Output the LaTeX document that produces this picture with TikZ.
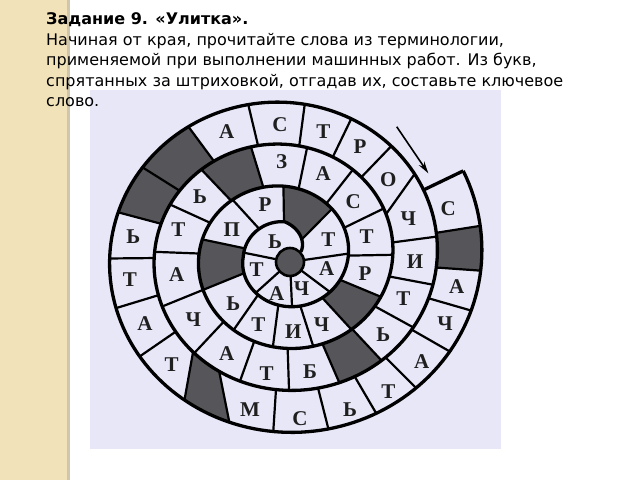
\documentclass[tikz,border=0pt]{standalone}
\usepackage{fontspec}
\setmainfont{DejaVu Sans}
\newfontfamily\cellfont{Liberation Serif}
\usetikzlibrary{arrows.meta}
\definecolor{paper}{RGB}{241,226,186}
\definecolor{paperedge}{RGB}{208,198,172}
\definecolor{lav}{RGB}{231,231,248}
\definecolor{shadegray}{RGB}{86,86,90}
\tikzset{
  spiralline/.style={line width=3.3pt, line join=round},
  sepline/.style={line width=2.2pt},
  shadecell/.style={fill=shadegray},
  cellletter/.style={font=\cellfont\bfseries\fontsize{21}{21}\selectfont, inner sep=0pt, text=black!88},
  bodytext/.style={font=\fontsize{16}{20}\selectfont, anchor=base west, inner sep=0pt},
}
\begin{document}
\begin{tikzpicture}[x=1pt,y=-1pt,
  declare function={
    sR(\t)=(\t<1260)?(186-\t/360*42):((\t<1350)?(39-(\t-1260)/90*4):(35-(\t-1350)/65*17));
    sx(\t)=284.6+1.06*sR(\t)*cos(\t);
    sy(\t)=256.75+sR(\t)*sin(\t);
  }]
\useasboundingbox (0,0) rectangle (640,480);
% background
\fill[white] (0,0) rectangle (640,480);
\fill[paper] (0,0) rectangle (67,480);
\fill[paperedge] (67,0) rectangle (70,480);
\fill[lav] (90,90) rectangle (501,449);
% text
\node[bodytext] (t1) at (46,24) {\bfseries Задание 9. «Улитка».};
\node[bodytext] (t2) at (46,45) {Начиная от края, прочитайте слова из терминологии,};
\node[bodytext] (t3) at (46,65.5) {применяемой при выполнении машинных работ. Из букв,};
\node[bodytext] (t4) at (46,86) {спрятанных за штриховкой, отгадав их, составьте ключевое};
\node[bodytext] (t5) at (46,106.5) {слово.};
% shaded cells (outer start/end, inner start/end)
\foreach \a/\b/\c/\d in {-9.5/4.3/-9.5/4.3, 107.5/123.4/118.3/132.2, 195.8/213.7/195.8/213.7,
   213.7/235.1/213.7/235.1, 408.6/427.7/408.6/427.7, 588/613.9/588/613.9,
   743.8/769.1/743.8/769.1, 876.7/912.6/876.7/912.6, 989.1/1033/989.1/1033}
  \fill[shadecell] plot[domain=\a:\b, samples=20] ({sx(\x)},{sy(\x)})
     -- plot[domain=\d+360:\c+360, samples=20] ({sx(\x)},{sy(\x)}) -- cycle;
% separators
\foreach \a/\b in {-9.5/-9.5, 4.3/4.3, 17/17, 31.3/31.3, 46.6/46.6, 61.1/61.1, 76.5/76.5,
   93.5/93.5, 107.5/118.3, 123.4/132.2, 143.9/143.9, 162.1/162.1, 179.4/179.4,
   195.8/195.8, 213.7/213.7, 235.1/235.1, 257.3/257.3, 277.1/277.1, 294.5/294.5,
   312.3/312.3, 326/336, 352/352, 371.3/371.3, 390.2/390.2, 408.6/408.6, 427.7/427.7,
   448.2/448.2, 468.7/468.7, 491.5/491.5, 516.7/516.7, 542.3/542.3, 565.8/565.8,
   588/588, 613.9/613.9, 641/641, 666.5/666.5, 692.7/692.7, 718.9/718.9, 743.8/743.8,
   769.1/769.1, 793.2/793.2, 817/817, 843.3/843.3, 876.7/876.7, 912.6/912.6,
   949.3/949.3, 989.1/989.1, 1033/1033}
  \draw[sepline] ({sx(\a)},{sy(\a)}) -- ({sx(\b+360)},{sy(\b+360)});
\coordinate (ctr) at (290,262);
\foreach \a in {1077,1119.5,1162,1207,1266}
  \draw[sepline] ({sx(\a)},{sy(\a)}) -- (ctr);
% spiral
\draw[spiralline] plot[domain=-27:1422, samples=700] ({sx(\x)},{sy(\x)});
\coordinate (capout) at ({sx(-27)},{sy(-27)});
\coordinate (capin) at ({sx(333)},{sy(333)});
\draw[spiralline] (capout) -- (capin);
\fill[shadegray, draw=black, line width=2.6pt] (ctr) circle[radius=14];
% letters
\foreach \px/\py/\ch [count=\i] in {448.3/208.3/С, 456.7/286.7/А, 445/323.3/Ч, 421.7/361.7/А,
   388.3/391.7/Т, 350/410/Ь, 300/418.3/С, 250/410/М, 171.7/365/Т, 145/323.3/А, 130/280/Т,
   133.3/236.7/Ь, 226.7/131.7/А, 280/125/С, 323.3/131.7/Т, 360/146.7/Р, 388.3/180/О,
   408.3/218.3/Ч, 415/261.7/И, 403.3/298.3/Т, 383.3/335/Ь, 310/371.7/Б, 266.7/373.3/Т,
   226.7/353.3/А, 193.3/320/Ч, 176.7/275/А, 178.3/230/Т, 200/196.7/Ь, 281.7/161.7/З,
   323.3/173.3/А, 353.3/201.7/С, 366.7/236.7/Т, 365/273.3/Р, 321.7/325/Ч, 293.3/331.7/И,
   258.3/325/Т, 233.3/303.3/Ь, 231.7/230/П, 265/205/Р, 328.3/240/Т, 326.7/268.3/А,
   301.7/288.3/Ч, 276.7/293.3/А, 256.7/270/Т, 275/241.7/Ь}
  \node[cellletter] (L\i) at (\px,\py) {\ch};
% arrow
\coordinate (arrA) at (396.7,126.7);
\coordinate (arrB) at (428.3,173.3);
\draw[line width=1.6pt, -{Stealth[length=12pt,width=6.5pt]}] (arrA) -- (arrB);
\end{tikzpicture}
\end{document}
